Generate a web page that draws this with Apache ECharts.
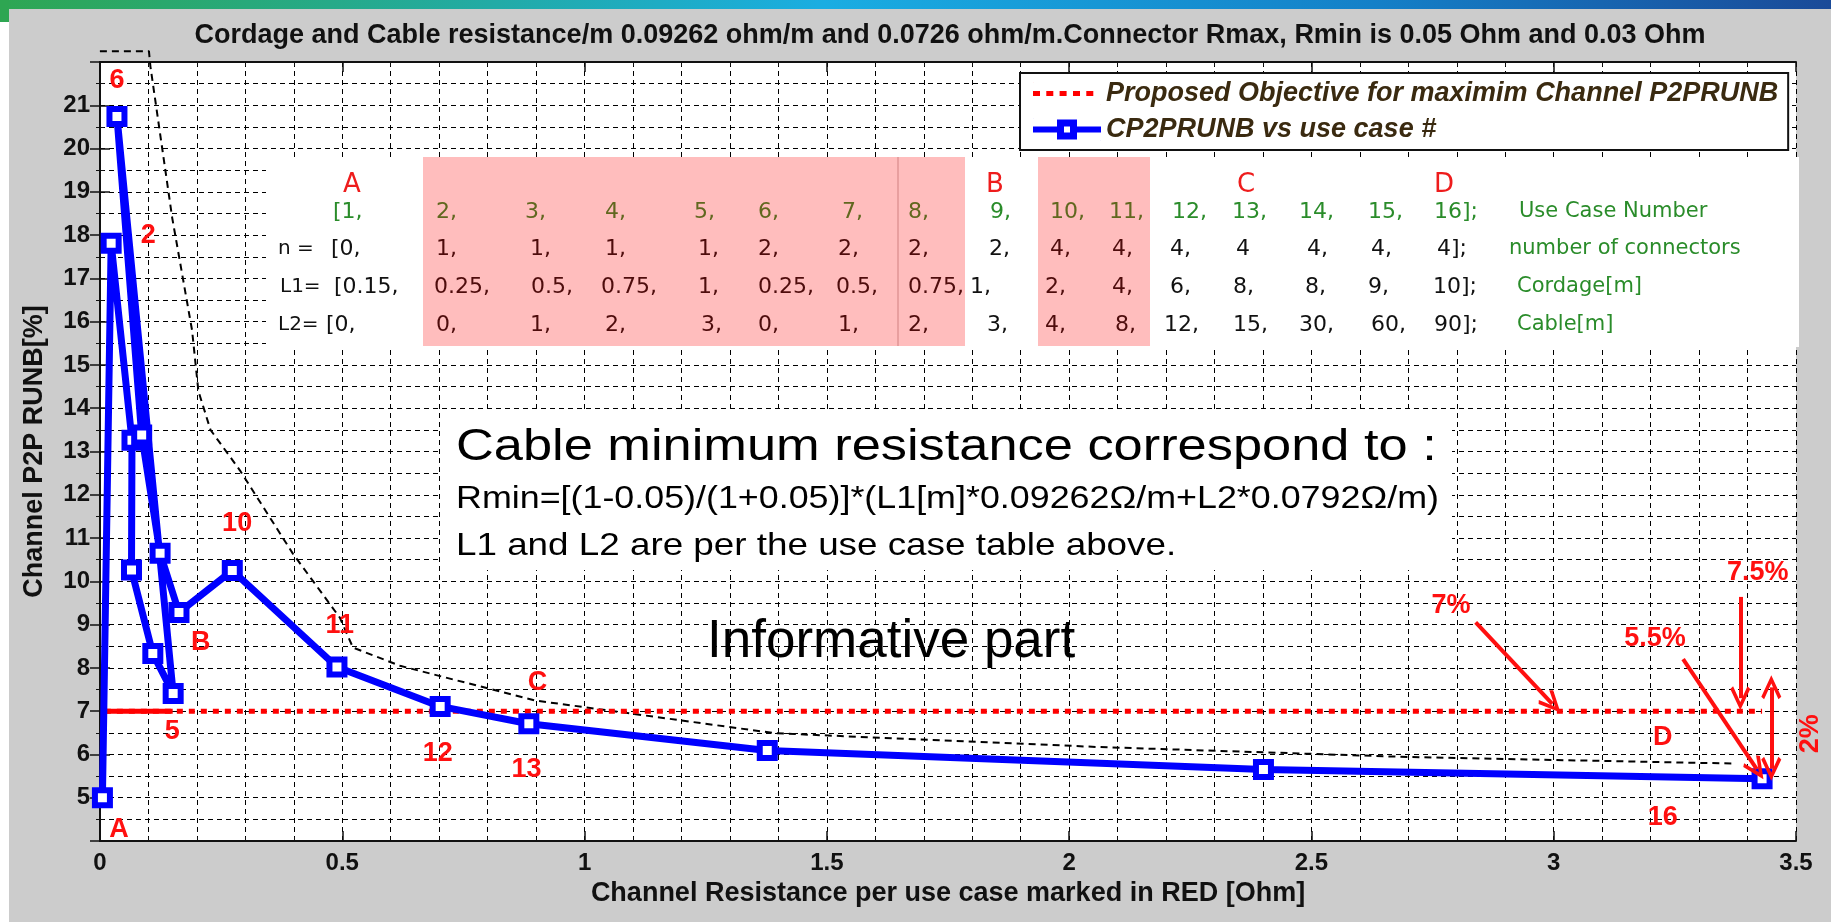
<!DOCTYPE html>
<html>
<head>
<meta charset="utf-8">
<script src="https://cdn.jsdelivr.net/npm/echarts@6.0.0/dist/echarts.min.js"></script>
<style>
  html, body { margin: 0; padding: 0; background: #fff; }
  .bg { position: absolute; left: 9px; top: 9px; width: 1822px; height: 913px; background: #cccccc; }
  .bar { position: absolute; left: 0; top: 0; width: 1831px; height: 9px;
         background: linear-gradient(90deg, #2ea652 0%, #26aa88 18%, #1aade2 45%, #1480c8 75%, #1a4a98 100%); }
  .bar-left { position: absolute; left: 0; top: 0; width: 9px; height: 22px; background: #2ea652; }
  #chart { position: absolute; left: 0; top: 0; width: 1831px; height: 922px; }
</style>
</head>
<body>
<div class="bg"></div>
<div class="bar"></div>
<div class="bar-left"></div>
<div id="chart"></div>
<script>
// channel resistance [Ohm] vs channel P2P RUNB [%], in plotted order
const resistance = [0.005, 0.023, 0.066, 0.065, 0.109, 0.151, 0.035, 0.086, 0.124, 0.163, 0.273, 0.489, 0.702, 0.885, 1.377, 2.401, 3.430]
const runb = [5.00, 17.81, 13.26, 10.26, 8.33, 7.41, 20.74, 13.38, 10.65, 9.28, 10.25, 8.02, 7.11, 6.71, 6.09, 5.65, 5.44]

// proposed objective (7%)
const objectiveX = [0.01, 3.43]
const objectiveY = [7, 7]
const objectiveSolidX = [0.01, 0.15]

// hand drawn dashed envelope
const envelopeX = [-0.025, 0.101, 0.104, 0.149, 0.19, 0.203, 0.228, 0.289, 0.398, 0.495, 0.522, 0.619, 0.896, 1.393, 2.064, 2.40, 2.70, 3.37]
const envelopeY = [22.25, 22.25, 21.9, 18.4, 15.8, 14.4, 13.5, 12.56, 10.64, 9.16, 8.47, 8.05, 7.25, 6.49, 6.17, 6.05, 5.94, 5.79]

// red annotations
const noteText = ['6', '2', '5', 'A', 'B', '10', '11', '12', '13', 'C', 'D', '16', '7%', '5.5%', '7.5%', '2%']
const noteX = [0.035, 0.0997, 0.149, 0.039, 0.208, 0.283, 0.495, 0.697, 0.88, 0.903, 3.225, 3.225, 2.788, 3.209, 3.421, 3.531]
const noteY = [21.56, 17.98, 6.52, 4.26, 8.59, 11.33, 8.98, 6.02, 5.65, 7.67, 6.40, 4.55, 9.44, 8.67, 10.21, 6.48]

// arrows: [x1, y1, x2, y2, double]
const arrowLines = [
  [2.839, 9.05, 2.997, 7.17, false],
  [3.267, 8.20, 3.419, 5.66, false],
  [3.385, 9.64, 3.385, 7.30, false],
  [3.449, 7.55, 3.449, 5.67, true]
]

// use case table
const useCaseRow = ['[1,', '2,', '3,', '4,', '5,', '6,', '7,', '8,', '9,', '10,', '11,', '12,', '13,', '14,', '15,', '16];']
const connectorRow = ['[0,', '1,', '1,', '1,', '1,', '2,', '2,', '2,', '2,', '4,', '4,', '4,', '4', '4,', '4,', '4];']
const cordageRow = ['[0.15,', '0.25,', '0.5,', '0.75,', '1,', '0.25,', '0.5,', '0.75,', '1,', '2,', '4,', '6,', '8,', '8,', '9,', '10];']
const cableRow = ['[0,', '0,', '1,', '2,', '3,', '0,', '1,', '2,', '3,', '4,', '8,', '12,', '15,', '30,', '60,', '90];']
const rowNames = ['', 'n =', 'L1=', 'L2=']
const rowNotes = ['Use Case Number', 'number of connectors', 'Cordage[m]', 'Cable[m]']
const groupLetters = ['A', 'B', 'C', 'D']

const FONT = "'Liberation Sans', Arial, sans-serif"
const TFONT = "'DejaVu Sans', 'Noto Sans', sans-serif"

const chart = echarts.init(document.getElementById('chart'))

// table layout (pixels)
const rowY = [212, 249, 287, 325]
const rowXs = [
  [333, 436, 525, 605, 694, 758, 842, 908, 990, 1050, 1109, 1172, 1232, 1299, 1368, 1434],
  [331, 436, 530, 605, 698, 758, 838, 908, 989, 1050, 1112, 1170, 1236, 1307, 1371, 1437],
  [334, 434, 531, 601, 698, 758, 836, 908, 970, 1045, 1112, 1170, 1233, 1305, 1368, 1433],
  [326, 436, 530, 605, 701, 758, 838, 908, 987, 1045, 1115, 1164, 1233, 1299, 1371, 1434]
]
const rowNameX = [0, 278, 280, 278]
const rowNoteX = [1519, 1509, 1517, 1517]
const letterX = [352, 995, 1246, 1444]

function txt(x, y, text, font, fill, z, extra) {
  return Object.assign({
    type: 'text', x: x, y: y, z: z || 3,
    style: { text: text, font: font, fill: fill, textAlign: 'left', textVerticalAlign: 'middle' }
  }, extra || {})
}

const graphics = []
// table background
graphics.push({ type: 'rect', z: 1, shape: { x: 266, y: 157, width: 1533, height: 190 }, style: { fill: '#fff' } })
// formula box background
graphics.push({ type: 'rect', z: 1, shape: { x: 440, y: 413, width: 1012, height: 157 }, style: { fill: '#fff' } })

const rows = [useCaseRow, connectorRow, cordageRow, cableRow]
rows.forEach((row, r) => {
  const color = r === 0 ? '#2a8c2a' : '#111'
  row.forEach((s, i) => {
    graphics.push(txt(rowXs[r][i], rowY[r], s, '22px ' + TFONT, color, 3))
  })
  if (rowNames[r]) graphics.push(txt(rowNameX[r], rowY[r], rowNames[r], '20px ' + TFONT, '#111', 3))
  graphics.push(txt(rowNoteX[r], rowY[r], rowNotes[r], '21px ' + TFONT, '#2a8c2a', 3))
})
groupLetters.forEach((s, i) => {
  graphics.push({
    type: 'text', x: letterX[i], y: 185, z: 3,
    style: { text: s, font: '26px ' + TFONT, fill: '#ee1c1c', textAlign: 'center', textVerticalAlign: 'middle' }
  })
})
// pink highlight over the table
graphics.push({ type: 'rect', z: 4, shape: { x: 423, y: 157, width: 542, height: 189 }, style: { fill: 'rgba(255,0,0,0.26)' } })
graphics.push({ type: 'rect', z: 4, shape: { x: 1038, y: 157, width: 112, height: 189 }, style: { fill: 'rgba(255,0,0,0.26)' } })
graphics.push({ type: 'line', z: 4, shape: { x1: 898, y1: 157, x2: 898, y2: 346 }, style: { stroke: 'rgba(150,60,60,0.45)', lineWidth: 1 } })

// formula text
graphics.push(txt(456, 448, 'Cable minimum resistance correspond to :', '44px ' + FONT, '#000', 3, { scaleX: 1.19 }))
graphics.push(txt(456, 499, 'Rmin=[(1-0.05)/(1+0.05)]*(L1[m]*0.09262\u03a9/m+L2*0.0792\u03a9/m)', '32px ' + FONT, '#000', 3, { scaleX: 1.12 }))
graphics.push(txt(456, 546, 'L1 and L2 are per the use case table above.', '32px ' + FONT, '#000', 3, { scaleX: 1.15 }))
graphics.push(txt(707, 642, 'Informative part', '53px ' + FONT, '#000', 3))

const chevron = 'path://M50,0 L100,78 L86,88 L50,30 L14,88 L0,78 Z'
const dottedIcon = 'path://M0,0h0.2v0.2h-0.2z M67.8,21.8h0.2v0.2h-0.2z M0,8.5h7v5h-7z M13.3,8.5h7v5h-7z M26.6,8.5h7v5h-7z M40,8.5h7v5h-7z M53.3,8.5h7v5h-7z'
const squareIcon = 'path://M0,0h0.2v0.2h-0.2z M67.8,21.8h0.2v0.2h-0.2z M0,8h24v6h-24z M44,8h24v6h-24z M24,1h20v20h-20z M31,8v6h6v-6z'

const gridDash = { color: '#000', width: 1, type: [5, 4] }

const option = {
  animation: false,
  backgroundColor: 'transparent',
  title: {
    text: 'Cordage and Cable resistance/m 0.09262 ohm/m and 0.0726 ohm/m.Connector Rmax, Rmin is 0.05 Ohm and 0.03 Ohm',
    left: 945, top: 17, textAlign: 'center',
    textStyle: { fontFamily: FONT, fontSize: 27, fontWeight: 'bold', color: '#111' }
  },
  legend: {
    data: [
      { name: 'Proposed Objective for maximim Channel P2PRUNB', icon: dottedIcon, itemStyle: { color: '#ff0000', borderWidth: 0 } },
      { name: 'CP2PRUNB vs use case #', icon: squareIcon, itemStyle: { color: '#0000ff', borderWidth: 0 } }
    ],
    orient: 'vertical', left: 1020, top: 73,
    backgroundColor: '#fff', borderColor: '#111', borderWidth: 2,
    padding: [7, 10, 7, 13], itemGap: 9, itemWidth: 68, itemHeight: 22,
    selectedMode: false,
    textStyle: { fontFamily: FONT, fontSize: 27, fontWeight: 'bold', fontStyle: 'italic', color: '#3a2a10' }
  },
  grid: { left: 100, right: 35, top: 62, bottom: 81, show: true, backgroundColor: '#fff', borderWidth: 0 },
  xAxis: [{
    type: 'value', min: 0, max: 3.5, interval: 0.5,
    name: 'Channel Resistance per use case marked in RED [Ohm]',
    nameLocation: 'middle', nameGap: 37,
    nameTextStyle: { fontFamily: FONT, fontSize: 27, fontWeight: 'bold', color: '#111' },
    axisLine: { lineStyle: { color: '#111', width: 2 } },
    axisTick: { inside: true, length: 10, lineStyle: { color: '#111', width: 1.5 } },
    minorTick: { show: true, splitNumber: 5, length: 4, lineStyle: { color: '#111', width: 1 } },
    axisLabel: { fontFamily: FONT, fontSize: 24, fontWeight: 'bold', color: '#111', margin: 10 },
    splitLine: { show: true, lineStyle: gridDash },
    minorSplitLine: { show: true, lineStyle: gridDash }
  }, {
    type: 'value', min: 0, max: 3.5, interval: 0.5, position: 'top',
    axisLine: { lineStyle: { color: '#111', width: 2 } },
    axisTick: { inside: true, length: 10, lineStyle: { color: '#111', width: 1.5 } },
    minorTick: { show: true, splitNumber: 5, length: 4, lineStyle: { color: '#111', width: 1 } },
    axisLabel: { show: false },
    splitLine: { show: false }
  }],
  yAxis: [{
    type: 'value', min: 4, max: 22, interval: 1,
    name: 'Channel P2P RUNB[%]',
    nameLocation: 'middle', nameGap: 52,
    nameTextStyle: { fontFamily: FONT, fontSize: 27, fontWeight: 'bold', color: '#111' },
    axisLine: { show: true, lineStyle: { color: '#111', width: 2 } },
    axisTick: { show: true, inside: true, length: 10, lineStyle: { color: '#111', width: 1.5 } },
    minorTick: { show: true, splitNumber: 2, length: 4, lineStyle: { color: '#111', width: 1 } },
    axisLabel: {
      fontFamily: FONT, fontSize: 24, fontWeight: 'bold', color: '#111', margin: 10,
      formatter: v => (v === 4 || v === 22) ? '' : String(v)
    },
    splitLine: { show: true, lineStyle: gridDash },
    minorSplitLine: { show: true, lineStyle: gridDash }
  }, {
    type: 'value', min: 4, max: 22, interval: 1, position: 'right',
    axisLine: { show: true, lineStyle: { color: '#111', width: 2 } },
    axisTick: { show: true, inside: true, length: 10, lineStyle: { color: '#111', width: 1.5 } },
    minorTick: { show: true, splitNumber: 2, length: 4, lineStyle: { color: '#111', width: 1 } },
    axisLabel: { show: false },
    splitLine: { show: false }
  }],
  graphic: graphics,
  series: [
    {
      name: 'envelope', type: 'line', clip: false, symbol: 'none', z: 2,
      data: envelopeX.map((x, i) => [x, envelopeY[i]]),
      lineStyle: { color: '#000', width: 2, type: [7, 5] }
    },
    {
      name: 'Proposed Objective for maximim Channel P2PRUNB', type: 'line', symbol: 'none', z: 3,
      data: objectiveX.map((x, i) => [x, objectiveY[i]]),
      color: '#ff0000',
      lineStyle: { color: '#ff0000', width: 5, type: [6, 6] },
      markLine: {
        silent: true, animation: false,
        symbol: ['none', chevron], symbolSize: [20, 24],
        label: { show: false },
        lineStyle: { color: '#ff1010', width: 4, type: 'solid' },
        data: arrowLines.map(a => [
          { coord: [a[0], a[1]], symbol: a[4] ? chevron : 'none', symbolSize: [20, 24] },
          { coord: [a[2], a[3]] }
        ])
      }
    },
    {
      name: 'objective solid', type: 'line', symbol: 'none', z: 3,
      data: objectiveSolidX.map(x => [x, 7]),
      lineStyle: { color: '#ff0000', width: 5 }
    },
    {
      name: 'CP2PRUNB vs use case #', type: 'line', z: 4,
      data: resistance.map((x, i) => [x, runb[i]]),
      color: '#0000ff',
      lineStyle: { color: '#0000ff', width: 7 },
      symbol: 'rect', symbolSize: 15, showAllSymbol: true,
      itemStyle: { color: '#ffffff', borderColor: '#0000ff', borderWidth: 6 }
    },
    {
      name: 'notes', type: 'scatter', clip: false, z: 5,
      symbolSize: 1, itemStyle: { color: 'rgba(0,0,0,0)', opacity: 1 },
      data: noteText.map((t, i) => ({ name: t, value: [noteX[i], noteY[i]] })),
      label: {
        show: true, position: 'inside',
        formatter: p => p.name,
        fontFamily: FONT, fontSize: 27, fontWeight: 'bold', color: '#ff1010',
        textBorderWidth: 0
      },
      labelLayout: p => (p.text === '2%' ? { rotate: 90 } : {})
    }
  ]
}

chart.setOption(option)
</script>
</body>
</html>
